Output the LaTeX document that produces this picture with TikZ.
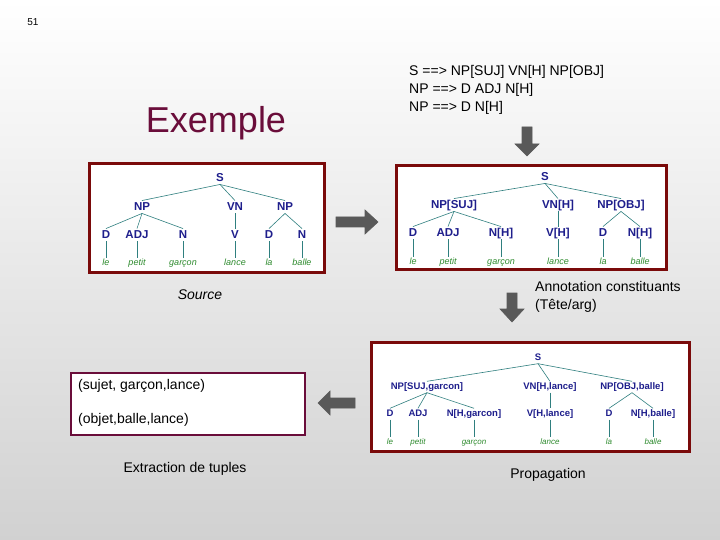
\documentclass[tikz,border=0pt]{standalone}
\usepackage{fontspec}
\setmainfont{Liberation Sans}
\definecolor{frame}{HTML}{7A0A0A}
\definecolor{tframe}{HTML}{6A0D3A}
\definecolor{lbl}{HTML}{1E1E8C}
\definecolor{wrd}{HTML}{2E8B2E}
\definecolor{edg}{HTML}{2F7F7F}
\definecolor{arr}{HTML}{595959}
\tikzset{
 box/.style={draw=frame,line width=3pt,fill=white},
 cat/.style={font=\bfseries\fontsize{11.5}{12}\selectfont,text=lbl,inner sep=1pt,text height=8.5pt,text depth=2pt},
 cats/.style={font=\bfseries\fontsize{9.5}{10}\selectfont,text=lbl,inner sep=1pt,text height=7pt,text depth=2pt},
 wd/.style={font=\itshape\fontsize{9}{10}\selectfont,text=wrd,inner sep=1pt,text height=6.5pt,text depth=2pt},
 e/.style={draw=edg,line width=0.6pt},
 plain/.style={font=\fontsize{14}{18}\selectfont,align=left,inner sep=0pt},
 blk/.style={fill=arr,draw=black!65,line width=0.6pt}
}
\begin{document}
\begin{tikzpicture}[x=1pt,y=-1pt]
\shade[top color=white,bottom color=black!18] (0,0) rectangle (720,540);
\useasboundingbox (0,0) rectangle (720,540);
\node[font=\fontsize{10}{11}\selectfont] (pg) at (33,22) {51};
\node[font=\fontsize{36}{40}\selectfont,text=tframe] (ex) at (216,123) {Exemple};
\node[plain,anchor=north west] (rules) at (409,65) {S ==> NP[SUJ] VN[H] NP[OBJ]\\NP ==> D ADJ N[H]\\NP ==> D N[H]};
% box 1
\draw[box] (89,164) rectangle (324,272);
\node[cat] (a0) at (220,178) {S};
\node[cat] (a1) at (142,207) {NP};
\node[cat] (a2) at (235,207) {VN};
\node[cat] (a3) at (285,207) {NP};
\node[cat] (a4) at (106,235) {D};
\node[cat] (a5) at (137,235) {ADJ};
\node[cat] (a6) at (183,235) {N};
\node[cat] (a7) at (235,235) {V};
\node[cat] (a8) at (269,235) {D};
\node[cat] (a9) at (302,235) {N};
\foreach \n/\w in {4/le,5/petit,6/garçon,7/lance,8/la,9/balle}{\node[wd] (aw\n) at (a\n |- 0,263) {\w};\draw[e] (a\n.south) -- (aw\n.north);}
\foreach \p/\c in {0/1,0/2,0/3,1/4,1/5,1/6,2/7,3/8,3/9}{\draw[e] (a\p.south) -- (a\c.north);}
\node[font=\itshape\fontsize{14}{16}\selectfont] (src) at (200,295) {Source};
% box 2
\draw[box] (396,166) rectangle (666,269);
\node[cat] (b0) at (545,177) {S};
\node[cat] (b1) at (454,205) {NP[SUJ]};
\node[cat] (b2) at (558,205) {VN[H]};
\node[cat] (b3) at (621,205) {NP[OBJ]};
\node[cat] (b4) at (413,233) {D};
\node[cat] (b5) at (448,233) {ADJ};
\node[cat] (b6) at (501,233) {N[H]};
\node[cat] (b7) at (558,233) {V[H]};
\node[cat] (b8) at (603,233) {D};
\node[cat] (b9) at (640,233) {N[H]};
\foreach \n/\w in {4/le,5/petit,6/garçon,7/lance,8/la,9/balle}{\node[wd] (bw\n) at (b\n |- 0,262) {\w};\draw[e] (b\n.south) -- (bw\n.north);}
\foreach \p/\c in {0/1,0/2,0/3,1/4,1/5,1/6,2/7,3/8,3/9}{\draw[e] (b\p.south) -- (b\c.north);}
\node[plain,anchor=north west] (ann) at (535,281) {Annotation constituants\\(Tête/arg)};
% box 3
\draw[box] (371,342) rectangle (689,451);
\node[cats] (c0) at (538,358) {S};
\node[cats] (c1) at (427,387) {NP[SUJ,garcon]};
\node[cats] (c2) at (550,387) {VN[H,lance]};
\node[cats] (c3) at (632,387) {NP[OBJ,balle]};
\node[cats] (c4) at (390,414) {D};
\node[cats] (c5) at (418,414) {ADJ};
\node[cats] (c6) at (474,414) {N[H,garcon]};
\node[cats] (c7) at (550,414) {V[H,lance]};
\node[cats] (c8) at (609,414) {D};
\node[cats] (c9) at (653,414) {N[H,balle]};
\foreach \n/\w in {4/le,5/petit,6/garçon,7/lance,8/la,9/balle}{\node[wd,font=\itshape\fontsize{8}{9}\selectfont] (cw\n) at (c\n |- 0,442) {\w};\draw[e] (c\n.south) -- (cw\n.north);}
\foreach \p/\c in {0/1,0/2,0/3,1/4,1/5,1/6,2/7,3/8,3/9}{\draw[e] (c\p.south) -- (c\c.north);}
\node[font=\fontsize{14}{16}\selectfont] (prop) at (548,475) {Propagation};
% tuples
\draw[draw=tframe,line width=2.5pt,fill=white] (71,373) rectangle (305,435);
\node[plain,anchor=west] (t1) at (78,386) {(sujet, garçon,lance)};
\node[plain,anchor=west] (t2) at (78,420) {(objet,balle,lance)};
\node[font=\fontsize{14}{16}\selectfont] (ext) at (185,469) {Extraction de tuples};
% arrows
\draw[blk] (336,217) -- (365,217) -- (365,210) -- (378,222) -- (365,234) -- (365,227) -- (336,227) -- cycle;
\draw[blk] (522,127) -- (532,127) -- (532,144) -- (539,144) -- (527,156) -- (515,144) -- (522,144) -- cycle;
\draw[blk] (507,293) -- (517,293) -- (517,309) -- (524,309) -- (512,322) -- (500,309) -- (507,309) -- cycle;
\draw[blk] (355,398) -- (330,398) -- (330,391) -- (318,403) -- (330,415) -- (330,408) -- (355,408) -- cycle;
\end{tikzpicture}
\end{document}
